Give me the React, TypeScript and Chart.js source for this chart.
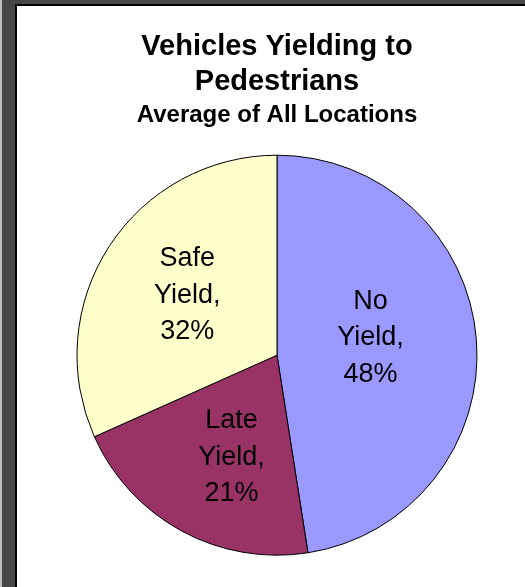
import React, { useEffect, useRef } from "react";
import { Chart, registerables } from "chart.js";

Chart.register(...registerables);

const categories = ["No Yield", "Late Yield", "Safe Yield"];
const shares = [48, 21, 32];
const sliceColors = ["#9999FF", "#993366", "#FFFFCC"];
const titleLines = ["Vehicles Yielding to", "Pedestrians"];
const subtitleText = "Average of All Locations";

const FONT = "'Liberation Sans', Arial, Helvetica, sans-serif";
// label placement inside each slice: [fraction along the arc, fraction of radius]
const LABEL_PLACE = [
  [0.465, 0.475],
  [0.44, 0.56],
  [0.507, 0.54],
];

const sliceLabels = {
  id: "sliceLabels",
  afterDatasetsDraw(chart: any) {
    const ctx = chart.ctx;
    const meta = chart.getDatasetMeta(0);
    ctx.save();
    ctx.font = `27px ${FONT}`;
    ctx.fillStyle = "#000";
    ctx.textAlign = "center";
    ctx.textBaseline = "middle";
    meta.data.forEach((arc: any, i: number) => {
      const { x, y, startAngle, endAngle, outerRadius } = arc.getProps(
        ["x", "y", "startAngle", "endAngle", "outerRadius"],
        true
      );
      const [fa, fr] = LABEL_PLACE[i];
      const ang = startAngle + (endAngle - startAngle) * fa;
      const r = outerRadius * fr;
      const cx = x + Math.cos(ang) * r;
      const cy = y + Math.sin(ang) * r;
      const words = categories[i].split(" ");
      const lines = [
        ...words.slice(0, -1),
        words[words.length - 1] + ",",
        shares[i] + "%",
      ];
      const lh = 36.5;
      const start = cy - ((lines.length - 1) / 2) * lh;
      lines.forEach((t, j) => ctx.fillText(t, cx, start + j * lh));
    });
    ctx.restore();
  },
};

export default function App() {
  const ref = useRef<HTMLCanvasElement | null>(null);

  useEffect(() => {
    if (!ref.current) return;
    const chart = new Chart(ref.current, {
      type: "pie",
      data: {
        labels: categories,
        datasets: [
          {
            data: shares,
            backgroundColor: sliceColors,
            borderColor: "#000",
            borderWidth: 1,
            radius: 200,
          },
        ],
      },
      options: {
        animation: false,
        responsive: false,
        devicePixelRatio: 1,
        layout: { padding: { left: 12, right: 0, top: 0, bottom: 32 } },
        plugins: {
          legend: { display: false },
          tooltip: { enabled: false },
          title: {
            display: true,
            text: titleLines,
            color: "#000",
            font: { family: FONT, size: 29, weight: "bold", lineHeight: 1.2 },
            padding: { top: 24, bottom: 0 },
          },
          subtitle: {
            display: true,
            text: subtitleText,
            color: "#000",
            font: { family: FONT, size: 24, weight: "bold", lineHeight: 1.2 },
            padding: { top: 1, bottom: 26 },
          },
        },
      },
      plugins: [sliceLabels],
    });
    return () => chart.destroy();
  }, []);

  return (
    <div
      style={{
        position: "fixed",
        left: 0,
        top: 0,
        width: 525,
        height: 587,
        background: "#474747",
        overflow: "hidden",
      }}
    >
      <div
        style={{
          position: "absolute",
          left: 0,
          top: 0,
          width: 2,
          height: 587,
          background: "#bdbdbd",
        }}
      />
      <div
        style={{
          position: "absolute",
          left: 15,
          top: 4,
          width: 510,
          height: 583,
          background: "#000",
        }}
      />
      <div
        style={{
          position: "absolute",
          left: 17,
          top: 6,
          width: 508,
          height: 581,
          background: "#fff",
        }}
      >
        <canvas ref={ref} width={508} height={581} style={{ display: "block" }} />
      </div>
    </div>
  );
}
